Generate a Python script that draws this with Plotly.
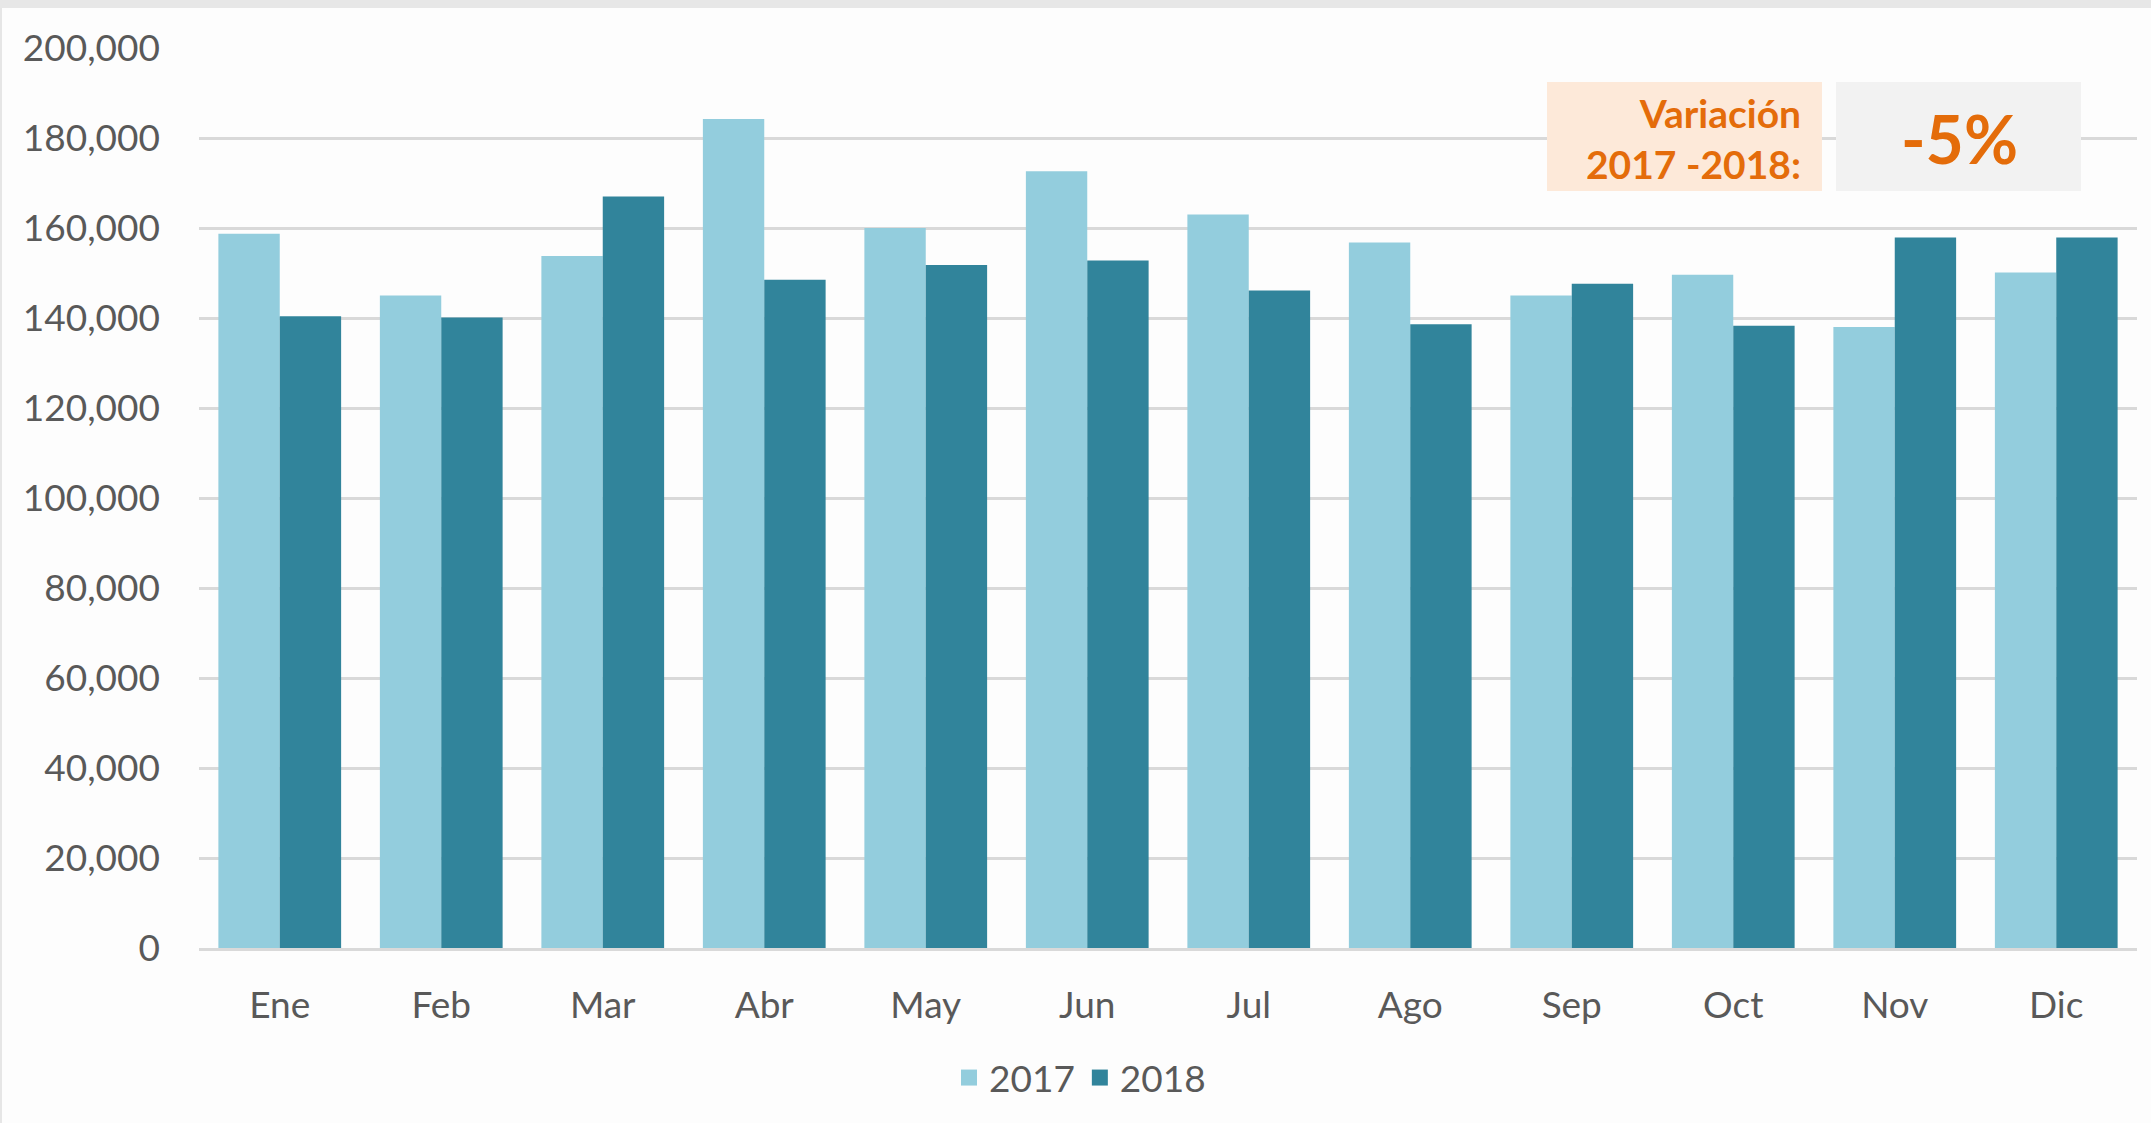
import plotly.graph_objects as go

months = ["Ene", "Feb", "Mar", "Abr", "May", "Jun", "Jul", "Ago", "Sep", "Oct", "Nov", "Dic"]
values_2017 = [158700, 145000, 153800, 184200, 160000, 172600, 163000, 156800, 145000, 149600, 138000, 150100]
values_2018 = [140400, 140100, 167000, 148500, 151800, 152800, 146100, 138600, 147600, 138300, 157900, 157900]
series_names = ["2017", "2018"]
y_ticks = [0, 20000, 40000, 60000, 80000, 100000, 120000, 140000, 160000, 180000, 200000]
annotation_label = "Variación<br>2017 -2018:"
annotation_value = "-5%"

C17 = "#93CDDD"
C18 = "#31849B"
FONT = "Lato, Carlito, 'Open Sans', sans-serif"
TXT = "#595959"
ORANGE = "#E46C0A"

W, H = 2151, 1123
ML, MR, MT, MB = 199, 14, 48, 175
PW, PH = W - ML - MR, H - MT - MB


def px_x(x):
    return (x - ML) / PW


def px_y(y):
    return (H - MB - y) / PH


fig = go.Figure()
fig.add_bar(x=months, y=values_2017, name=series_names[0], marker=dict(color=C17, line_width=0), showlegend=False)
fig.add_bar(x=months, y=values_2018, name=series_names[1], marker=dict(color=C18, line_width=0), showlegend=False)
# legend entries
for nm, c in zip(series_names, [C17, C18]):
    fig.add_scatter(x=[None], y=[None], mode="markers", name=nm,
                    marker=dict(symbol="square", size=24, color=c))

fig.update_layout(
    width=W, height=H,
    margin=dict(l=ML, r=MR, t=MT, b=MB),
    paper_bgcolor="#FDFDFD",
    plot_bgcolor="#FDFDFD",
    barmode="group",
    bargap=0.24,
    bargroupgap=0,
    font=dict(family=FONT, size=37, color=TXT),
    showlegend=True,
    legend=dict(orientation="h", x=px_x(1080), xanchor="center", y=px_y(1078), yanchor="middle",
                font=dict(size=37, color=TXT), itemsizing="trace", traceorder="normal",
                bgcolor="rgba(0,0,0,0)", itemwidth=30),
    xaxis=dict(showgrid=False, ticks="", showline=True, linecolor="#D9D9D9", linewidth=3,
               tickfont=dict(size=37, color=TXT), ticklabelstandoff=23, fixedrange=True),
    yaxis=dict(range=[0, 200000], tickvals=y_ticks, tickformat=",d", showgrid=True,
               gridcolor="#D9D9D9", gridwidth=2.5, zeroline=False, showline=False, ticks="",
               tickfont=dict(size=37, color=TXT), ticklabelstandoff=38, fixedrange=True),
)

# top grey band and left border of the card
fig.add_shape(type="rect", xref="paper", yref="paper", x0=px_x(0), x1=px_x(W), y0=px_y(8), y1=px_y(0),
              fillcolor="#E7E7E7", line_width=0, layer="below")
fig.add_shape(type="line", xref="paper", yref="paper", x0=px_x(1), x1=px_x(1), y0=px_y(H), y1=px_y(8),
              line=dict(color="#E6E6E6", width=2), layer="below")

# annotation boxes
fig.add_shape(type="rect", xref="paper", yref="paper", x0=px_x(1547), x1=px_x(1822), y0=px_y(191), y1=px_y(82),
              fillcolor="#FDE9D9", line_width=0, layer="above")
fig.add_shape(type="rect", xref="paper", yref="paper", x0=px_x(1836), x1=px_x(2081), y0=px_y(191), y1=px_y(82),
              fillcolor="#F2F2F2", line_width=0, layer="above")
fig.add_annotation(xref="paper", yref="paper", x=px_x(1803), y=px_y(138), xanchor="right", yanchor="middle",
                   text="<b>" + annotation_label + "</b>", showarrow=False, align="right",
                   font=dict(family=FONT, size=39, color=ORANGE))
fig.add_annotation(xref="paper", yref="paper", x=px_x(1959), y=px_y(138), xanchor="center", yanchor="middle",
                   text="<b>" + annotation_value + "</b>", showarrow=False,
                   font=dict(family=FONT, size=66, color=ORANGE))

fig.write_html("out.html", config={"displayModeBar": False},
               post_script="document.body.style.margin='0';document.body.style.overflow='hidden';")
